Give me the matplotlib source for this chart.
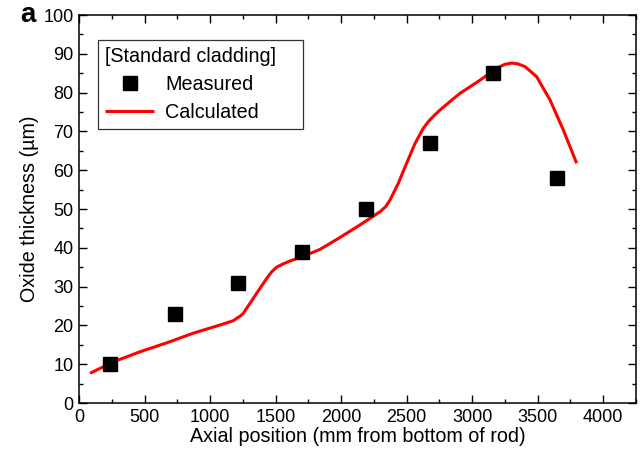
import matplotlib
matplotlib.use("Agg")
import matplotlib.pyplot as plt
from matplotlib.ticker import MultipleLocator

plt.rcParams['font.family'] = ['Liberation Sans', 'DejaVu Sans']

meas_x = [240, 730, 1215, 1700, 2190, 2675, 3160, 3650]
meas_y = [10, 23, 31, 39, 50, 67, 85, 58]

calc_x = [84, 262, 465, 669, 872, 1076, 1140, 1177, 1203, 1230, 1254, 1279, 1305, 1356,
          1432, 1470, 1508, 1560, 1610, 1712, 1839, 1979, 2144, 2297, 2340, 2373, 2436,
          2500, 2564, 2627, 2665, 2704, 2754, 2831, 2907, 3060, 3187, 3250, 3302, 3350,
          3403, 3492, 3594, 3695, 3797]
calc_y = [7.65, 10.6, 13.2, 15.5, 18.0, 20.1, 20.8, 21.2, 21.8, 22.4, 23.1, 24.4, 25.7,
          28.3, 32.1, 33.8, 35.0, 35.9, 36.6, 37.8, 39.6, 42.4, 45.9, 49.3, 50.6, 52.3,
          56.6, 61.8, 66.9, 70.8, 72.5, 73.9, 75.5, 77.7, 79.8, 83.2, 86.3, 87.3, 87.6,
          87.4, 86.7, 84.1, 78.1, 70.4, 61.8]

fig = plt.figure(figsize=(6.44, 4.58), dpi=100)
ax = fig.add_axes([79/644, 1-403/458, (636-79)/644, (403-15)/458])

ax.plot(meas_x, meas_y, 's', color='black', markersize=9.5, label='Measured', zorder=3)
ax.plot(calc_x, calc_y, '-', color='#ff0000', linewidth=2.2, label='Calculated', zorder=2,
        solid_joinstyle='round', solid_capstyle='butt')

ax.set_xlim(0, 4250)
ax.set_ylim(0, 100)
ax.xaxis.set_major_locator(MultipleLocator(500))
ax.xaxis.set_minor_locator(MultipleLocator(250))
ax.yaxis.set_major_locator(MultipleLocator(10))
ax.yaxis.set_minor_locator(MultipleLocator(5))
ax.tick_params(which='both', direction='in', top=True, right=True, labelsize=13, width=1)
ax.tick_params(which='major', length=6, pad=4)
ax.tick_params(which='minor', length=3)
for s in ax.spines.values():
    s.set_linewidth(1.1)

ax.set_xlabel('Axial position (mm from bottom of rod)', fontsize=14.2, labelpad=1)
ax.set_ylabel('Oxide thickness (\u00b5m)', fontsize=14.2, labelpad=3)

leg = ax.legend(title='[Standard cladding]', loc='upper left',
                bbox_to_anchor=((98-79)/557, (403-126)/388, (303-98)/557, (126-40)/388),
                mode='expand', fontsize=14.2, title_fontsize=14.2, frameon=True, fancybox=False,
                edgecolor='black', handlelength=2.5, handletextpad=0.55, borderpad=0.35,
                labelspacing=0.45, numpoints=1, borderaxespad=0)
leg.get_frame().set_linewidth(0.9)
leg._legend_box.align = 'left'

fig.text(28/644, 1-15/458, 'a', fontsize=20, fontweight='bold', ha='center', va='center')

fig.savefig('out.png', dpi=100)
